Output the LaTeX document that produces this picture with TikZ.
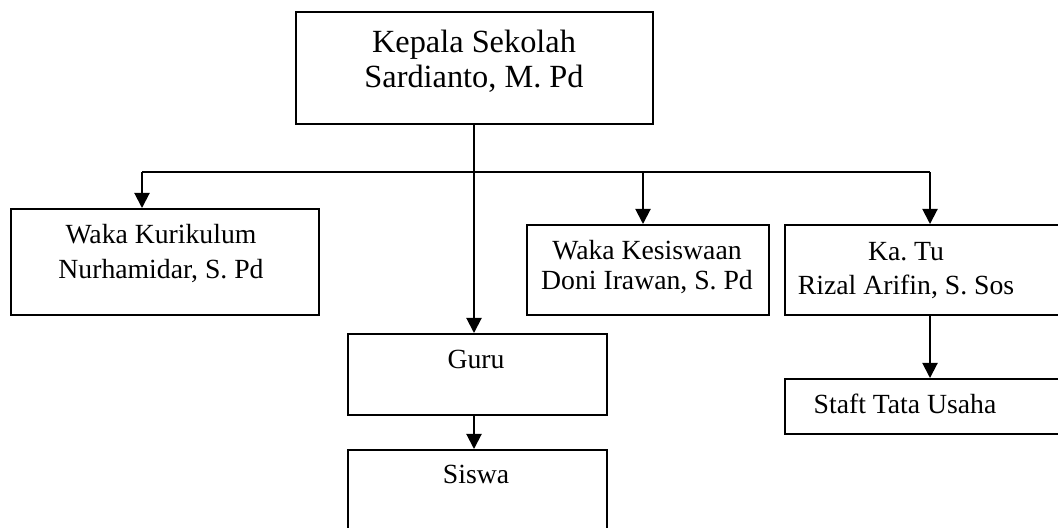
\documentclass[tikz,border=0pt]{standalone}
\usepackage{fontspec}
\setmainfont{Liberation Serif}
\usetikzlibrary{arrows.meta}
\frenchspacing
\begin{document}
\begin{tikzpicture}[x=0.433pt,y=-0.433pt,
  box/.style={draw,line width=0.85pt,inner sep=0pt,anchor=north west},
  lbl/.style={anchor=base,inner sep=0pt,font=\fontsize{12}{14}\selectfont},
  biglbl/.style={anchor=base,inner sep=0pt,font=\fontsize{14}{16}\selectfont},
  conn/.style={line width=0.85pt},
  arr/.style={line width=0.85pt,-{Triangle[length=6.5pt,width=6.5pt]}}]
\useasboundingbox (0,0) rectangle (1058,527);
\clip (0,0) rectangle (1058,527);
% boxes
\node[box,minimum width=154.6pt,minimum height=48.5pt] (kepsek) at (295,11) {};
\node[box,minimum width=133.4pt,minimum height=45.9pt] (wk) at (10,208) {};
\node[box,minimum width=104.8pt,minimum height=39pt] (wks) at (526,224) {};
\node[box,minimum width=130pt,minimum height=39pt] (katu) at (784,224) {};
\node[box,minimum width=112.1pt,minimum height=35.1pt] (guru) at (347,333) {};
\node[box,minimum width=112.1pt,minimum height=40pt] (siswa) at (347,449) {};
\node[box,minimum width=130pt,minimum height=23.8pt] (staf) at (784,378) {};
% texts
\node[biglbl] (t1a) at (474,52) {Kepala Sekolah};
\node[biglbl] (t1b) at (474,87) {Sardianto, M. Pd};
\node[lbl] (t2a) at (161,243) {Waka Kurikulum};
\node[lbl] (t2b) at (161,278) {Nurhamidar, S. Pd};
\node[lbl] (t3a) at (647,259) {Waka Kesiswaan};
\node[lbl] (t3b) at (647,289) {Doni Irawan, S. Pd};
\node[lbl] (t4a) at (906,260) {Ka. Tu};
\node[lbl] (t4b) at (906,294) {Rizal Arifin, S. Sos};
\node[lbl] (t5) at (476,368) {Guru};
\node[lbl] (t6) at (476,483) {Siswa};
\node[lbl] (t7) at (905,413) {Staft Tata Usaha};
% connectors
\coordinate (b1) at (142,172);
\coordinate (b2) at (474,172);
\coordinate (b3) at (643,172);
\coordinate (b4) at (930,172);
\draw[conn] (b1) -- (b4);
\draw[arr] (b2 |- kepsek.south) -- (b2 |- guru.north);
\draw[arr] (b1) -- (b1 |- wk.north);
\draw[arr] (b3) -- (b3 |- wks.north);
\draw[arr] (b4) -- (b4 |- katu.north);
\draw[arr] (b2 |- guru.south) -- (b2 |- siswa.north);
\draw[arr] (b4 |- katu.south) -- (b4 |- staf.north);
\end{tikzpicture}
\end{document}
